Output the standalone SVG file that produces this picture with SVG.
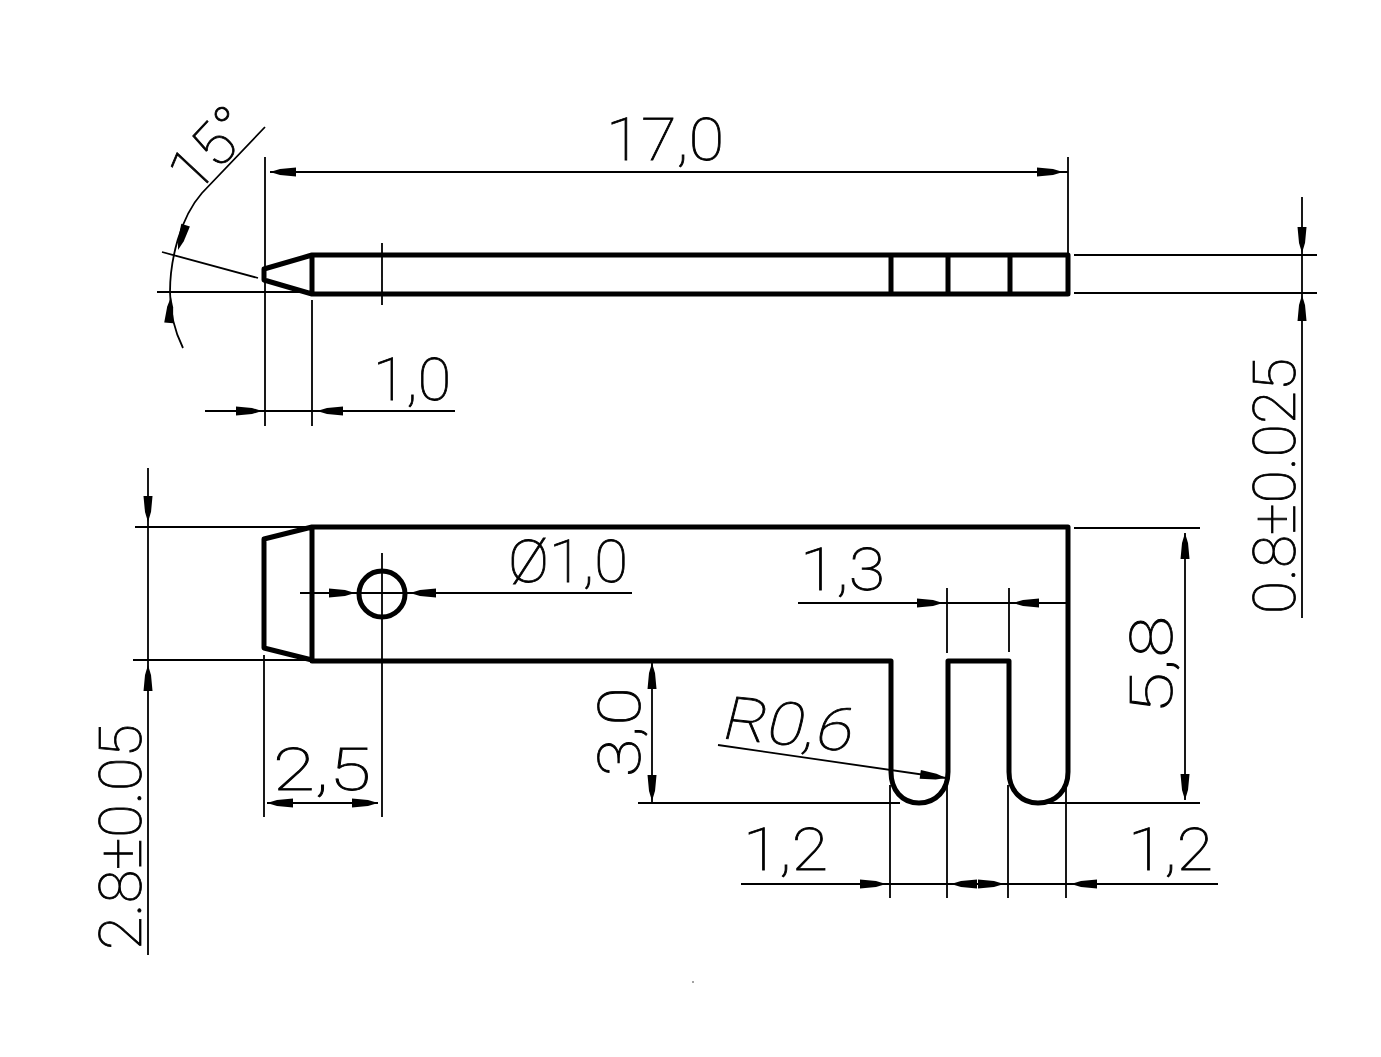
<svg xmlns="http://www.w3.org/2000/svg" width="1381" height="1057" viewBox="0 0 1381 1057">
<style>
.o{fill:none;stroke:#000;stroke-width:5;stroke-linejoin:round}
.t{fill:none;stroke:#000;stroke-width:1.8}
text{font-family:"Roboto","Liberation Sans",sans-serif;font-weight:100;font-size:60px;fill:#000;stroke:#000;stroke-width:.8}
</style>
<defs><polygon id="a" points="0,0 -10,-3 -26,-4.500 -26,4.500 -10,3" fill="#000"/></defs>
<rect width="1381" height="1057" fill="#fff"/>
<g id="outlines" class="o">
<path class="o" d="M312 255H1068V294H312ZM312 255L264 269V280L312 294M891 255V294M948 255V294M1010 255V294"/>
<path class="o" d="M312 527H1068V772C1068 790 1056 803 1038 803C1021 803 1009 790 1009 772V661H948V772C948 790 936 803 919 803C902 803 891 790 891 772V661H312ZM312 527L264 539V648L312 660"/>
<circle class="o" cx="382" cy="594" r="23"/>
</g>
<g id="dimensions">
<path class="t" d="M265 157V426M1068 157V255M270 172H1068M382 243V305M157 292H312M162 252L258 278M265 127L202 193C180 218 170 260 170 292C170 310 174 330 183 348M205 411H455M312 300V426M1074 255H1317M1074 293H1317M1302 197V618M135 527H312M133 660H312M148 468V955M264 655V817M382 553V817M267 803H378M300 593H632M798 603H1068M947 588V653M1009 588V652M1074 528H1200M1045 803H1200M1185 533V800M638 803H900M652 661V803M718 745L946 778M741 884H1218M890 785V898M947 785V898M1008 785V898M1066 785V898"/>
<use href="#a" transform="translate(270,172) rotate(180)"/>
<use href="#a" transform="translate(1063,172)"/>
<use href="#a" transform="translate(178,250) rotate(107)"/>
<use href="#a" transform="translate(171,297) rotate(-85)"/>
<use href="#a" transform="translate(262,411)"/>
<use href="#a" transform="translate(317,411) rotate(180)"/>
<use href="#a" transform="translate(1302,253) rotate(90)"/>
<use href="#a" transform="translate(1302,295) rotate(-90)"/>
<use href="#a" transform="translate(148,522) rotate(90)"/>
<use href="#a" transform="translate(148,665) rotate(-90)"/>
<use href="#a" transform="translate(267,803) rotate(180)"/>
<use href="#a" transform="translate(378,803)"/>
<use href="#a" transform="translate(355,593)"/>
<use href="#a" transform="translate(410,593) rotate(180)"/>
<use href="#a" transform="translate(943,603)"/>
<use href="#a" transform="translate(1013,603) rotate(180)"/>
<use href="#a" transform="translate(1185,533) rotate(-90)"/>
<use href="#a" transform="translate(1185,800) rotate(90)"/>
<use href="#a" transform="translate(652,663) rotate(-90)"/>
<use href="#a" transform="translate(652,801) rotate(90)"/>
<use href="#a" transform="translate(946,778) rotate(8)"/>
<use href="#a" transform="translate(886,884)"/>
<use href="#a" transform="translate(951,884) rotate(180)"/>
<use href="#a" transform="translate(1004,884)"/>
<use href="#a" transform="translate(1071,884) rotate(180)"/>
<circle cx="693" cy="982" r=".7" fill="#000"/>
</g>
<g id="labels">
<text x="606" y="160" textLength="118" lengthAdjust="spacingAndGlyphs">17,0</text>
<text transform="translate(195,196) rotate(-47)" textLength="90" lengthAdjust="spacingAndGlyphs">15°</text>
<text x="373" y="400" textLength="78" lengthAdjust="spacingAndGlyphs">1,0</text>
<text transform="translate(1295,614) rotate(-90)" textLength="256" lengthAdjust="spacingAndGlyphs">0.8±0.025</text>
<text x="508" y="582" textLength="120" lengthAdjust="spacingAndGlyphs">Ø1,0</text>
<text x="800" y="590" textLength="85" lengthAdjust="spacingAndGlyphs">1,3</text>
<text transform="translate(1172,714) rotate(-90)" textLength="98" lengthAdjust="spacingAndGlyphs">5,8</text>
<text transform="translate(640,777) rotate(-90)" textLength="90" lengthAdjust="spacingAndGlyphs">3,0</text>
<text transform="translate(720,738) rotate(6) skewX(-8)" textLength="130" lengthAdjust="spacingAndGlyphs">R0,6</text>
<text x="273" y="790" textLength="98" lengthAdjust="spacingAndGlyphs">2,5</text>
<text x="743" y="870" textLength="85" lengthAdjust="spacingAndGlyphs">1,2</text>
<text x="1128" y="870" textLength="85" lengthAdjust="spacingAndGlyphs">1,2</text>
<text transform="translate(141,950) rotate(-90)" textLength="226" lengthAdjust="spacingAndGlyphs">2.8±0.05</text>
</g>
</svg>
